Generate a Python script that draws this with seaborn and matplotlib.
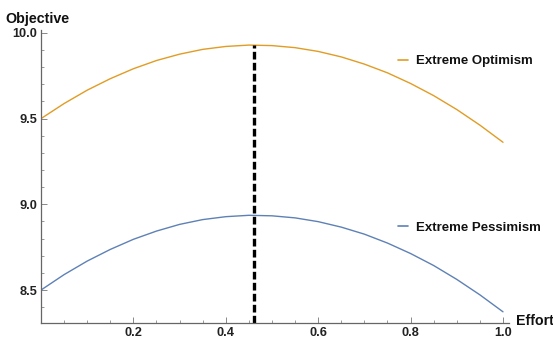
import numpy as np
import pandas as pd
import seaborn as sns
import matplotlib
matplotlib.use("Agg")
import matplotlib.pyplot as plt
from matplotlib.ticker import MultipleLocator, FixedLocator

# Effort levels and objective values for the two belief scenarios
effort = [0.00, 0.05, 0.10, 0.15, 0.20, 0.25, 0.30, 0.35, 0.40, 0.45, 0.50,
          0.55, 0.60, 0.65, 0.70, 0.75, 0.80, 0.85, 0.90, 0.95, 1.00]
optimism = [9.500, 9.588, 9.666, 9.733, 9.791, 9.839, 9.876, 9.904, 9.921, 9.929, 9.926,
            9.914, 9.892, 9.860, 9.818, 9.767, 9.705, 9.634, 9.553, 9.462, 9.362]
pessimism = [8.500, 8.590, 8.669, 8.737, 8.796, 8.844, 8.883, 8.911, 8.928, 8.936, 8.933,
             8.921, 8.899, 8.867, 8.826, 8.774, 8.713, 8.643, 8.562, 8.472, 8.373]
series_names = ["Extreme Optimism", "Extreme Pessimism"]
optimal_effort = 0.462
optimal_value = 9.929

x_ticks = [0.2, 0.4, 0.6, 0.8, 1.0]
y_ticks = [8.5, 9.0, 9.5, 10.0]

sns.set_theme(style="white")
plt.rcParams["font.family"] = ["Liberation Sans", "DejaVu Sans"]

df = pd.DataFrame({
    "Effort": effort * 2,
    "Objective": optimism + pessimism,
    "Scenario": [series_names[0]] * len(effort) + [series_names[1]] * len(effort),
})

colors = {series_names[0]: "#E19C24", series_names[1]: "#5E81B5"}

W, H = 553, 338
fig = plt.figure(figsize=(W / 100, H / 100), dpi=100)
ax = fig.add_axes([41 / W, (H - 323.3) / H, 468 / W, 293.3 / H])

sns.lineplot(data=df, x="Effort", y="Objective", hue="Scenario", palette=colors,
             linewidth=1.0, ax=ax, legend=False)

ax.vlines(optimal_effort, 8.306, optimal_value, colors="black", linewidth=2.4,
          linestyles=(0, (2.3, 1.0)))

ax.set_xlim(0, 1.013)
ax.set_ylim(8.306, 10.017)

for side in ["top", "right"]:
    ax.spines[side].set_visible(False)
for side in ["left", "bottom"]:
    ax.spines[side].set_color("#666666")
    ax.spines[side].set_linewidth(0.9)

ax.xaxis.set_major_locator(FixedLocator(x_ticks))
ax.xaxis.set_minor_locator(MultipleLocator(0.05))
ax.yaxis.set_major_locator(FixedLocator(y_ticks))
ax.yaxis.set_minor_locator(MultipleLocator(0.1))
ax.set_xticklabels([f"{v:.1f}" for v in x_ticks])
ax.set_yticklabels([f"{v:.1f}" for v in y_ticks])
ax.tick_params(axis="both", which="both", direction="in", colors="#888888",
               labelcolor="#222222", labelsize=9.2, bottom=True, left=True)
ax.tick_params(axis="both", which="major", length=4, width=0.7, pad=2.5)
ax.tick_params(axis="both", which="minor", length=2.2, width=0.6)
for lab in ax.get_xticklabels() + ax.get_yticklabels():
    lab.set_fontweight("bold")

ax.set_xlabel("")
ax.set_ylabel("")
fig.text(5 / W, 1 - 23 / H, "Objective", fontsize=10.3, fontweight="bold",
         color="#111111", va="baseline", ha="left")
fig.text(516 / W, 1 - 325 / H, "Effort", fontsize=10.2, fontweight="bold",
         color="#111111", va="baseline", ha="left")

# Inline labels for the two curves
for name, ypix, base in [(series_names[0], 60, 64.3), (series_names[1], 226, 230.7)]:
    yf = 1 - ypix / H
    fig.add_artist(plt.Line2D([398 / W, 408 / W], [yf, yf], color=colors[name],
                              linewidth=1.2, transform=fig.transFigure))
    fig.text(416 / W, 1 - base / H, name, fontsize=9.5, fontweight="bold",
             color="#111111", va="baseline", ha="left")

fig.savefig("out.png", dpi=100)
